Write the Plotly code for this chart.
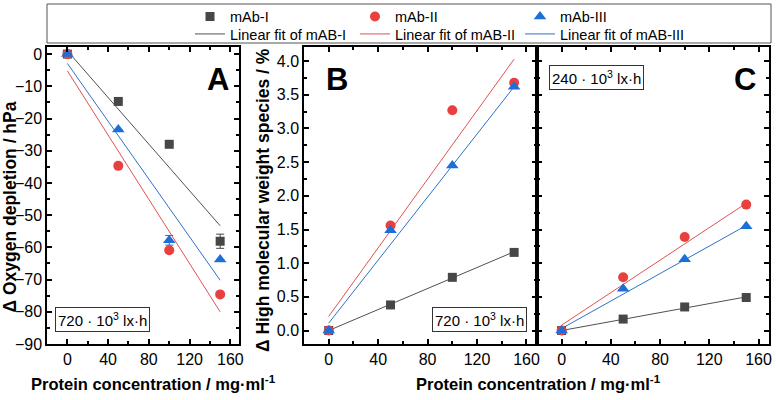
import plotly.graph_objects as go

# ---------------- data ----------------
conc = [0, 50, 100, 150]
fit_x = [0, 150]

# Panel A: oxygen depletion (hPa), 720e3 lx*h
A_mab1 = [0.0, -14.7, -28.0, -58.1]
A_mab2 = [0.0, -34.7, -60.9, -74.6]
A_mab3 = [0.0, -23.4, -57.8, -63.8]
A_err1 = [0, 0, 0, 2.2]
A_err2 = [0, 0, 0.8, 0]
A_err3 = [0, 0, 1.5, 0]
A_fit1 = [1.0, -53.3]
A_fit2 = [-5.2, -80.0]
A_fit3 = [-2.9, -70.2]

# Panel B: HMW species (%), 720e3 lx*h
B_mab1 = [0.0, 0.38, 0.79, 1.16]
B_mab2 = [0.0, 1.56, 3.27, 3.68]
B_mab3 = [0.0, 1.49, 2.45, 3.62]
B_fit1 = [0.0, 1.17]
B_fit2 = [0.21, 4.03]
B_fit3 = [0.11, 3.62]

# Panel C: HMW species (%), 240e3 lx*h
C_mab1 = [0.0, 0.17, 0.35, 0.49]
C_mab2 = [0.0, 0.79, 1.39, 1.87]
C_mab3 = [0.0, 0.62, 1.06, 1.55]
C_fit1 = [0.0, 0.50]
C_fit2 = [0.08, 1.89]
C_fit3 = [0.03, 1.56]

names = ["mAb-I", "mAb-II", "mAb-III"]
fit_names = ["Linear fit of mAB-I", "Linear fit of mAB-II", "Linear fit of mAB-III"]
x_ticks = [0, 40, 80, 120, 160]

# ---------------- style ----------------
W, H = 776, 400
FONT = "Liberation Sans, Arial, sans-serif"
mcol = ["#474747", "#E8403F", "#1D6FD8"]
lcol = ["#505050", "#E05252", "#2E72C6"]
msym = ["square", "circle", "triangle-up"]
msize = [9, 10, 11]

def px_x(p):
    return p / W

def px_y(p):
    return 1 - p / H

fig = go.Figure()

panels = [
    ("x", "y", [A_mab1, A_mab2, A_mab3], [A_fit1, A_fit2, A_fit3], [A_err1, A_err2, A_err3]),
    ("x2", "y2", [B_mab1, B_mab2, B_mab3], [B_fit1, B_fit2, B_fit3], None),
    ("x3", "y3", [C_mab1, C_mab2, C_mab3], [C_fit1, C_fit2, C_fit3], None),
]

for pi, (xa, ya, data, fits, errs) in enumerate(panels):
    for i in range(3):
        fig.add_trace(go.Scatter(
            x=fit_x, y=fits[i], mode="lines", xaxis=xa, yaxis=ya,
            line=dict(color=lcol[i], width=1),
            name=fit_names[i], legend="legend2", showlegend=(pi == 0),
            hoverinfo="skip"))
    for i in range(3):
        err = None
        if errs is not None:
            err = dict(type="data", array=errs[i], visible=True,
                       color=mcol[i], thickness=1, width=4)
        fig.add_trace(go.Scatter(
            x=conc, y=data[i], mode="markers", xaxis=xa, yaxis=ya,
            marker=dict(symbol=msym[i], size=msize[i], color=mcol[i],
                        line=dict(width=0)),
            error_y=err,
            name=names[i], legend="legend", showlegend=(pi == 0)))

# ---------------- axes ----------------
xdom = {"A": [px_x(47), px_x(239)], "B": [px_x(304), px_x(537)], "C": [px_x(537), px_x(769)]}
ydom = [px_y(344), px_y(47)]

def xaxis(dom, anchor):
    return dict(domain=dom, anchor=anchor, range=[-20, 168.5],
                tickmode="array", tickvals=x_ticks,
                ticktext=[str(v) for v in x_ticks],
                ticks="inside", ticklen=5,
                tickwidth=1.5, tickcolor="black",
                minor=dict(tickmode="linear", dtick=20, tick0=0, ticks="inside", ticklen=3,
                           tickwidth=1.5, tickcolor="black"),
                showline=True, linecolor="black", linewidth=1.5, mirror="ticks",
                showgrid=False, zeroline=False, automargin=False,
                tickfont=dict(family=FONT, size=16, color="black"))

def yaxis(dom, anchor, rng, dtick, mdtick, showlabels=True, fmt=None):
    d = dict(domain=dom, anchor=anchor, range=rng, tickmode="linear", dtick=dtick, tick0=0,
             ticks="inside", ticklen=5, tickwidth=1.5, tickcolor="black",
             minor=dict(tickmode="linear", dtick=mdtick, tick0=0, ticks="inside", ticklen=3,
                        tickwidth=1.5, tickcolor="black"),
             showline=True, linecolor="black", linewidth=1.5, mirror="ticks",
             showgrid=False, zeroline=False, showticklabels=showlabels,
             automargin=False,
             tickfont=dict(family=FONT, size=16, color="black"))
    if fmt:
        d["tickformat"] = fmt
    return d

fig.update_layout(
    xaxis=xaxis(xdom["A"], "y"),
    xaxis2=xaxis(xdom["B"], "y2"),
    xaxis3=xaxis(xdom["C"], "y3"),
    yaxis=yaxis(ydom, "x", [-90, 2.2], 10, 5),
    yaxis2=yaxis(ydom, "x2", [-0.2, 4.21], 0.5, 0.25, fmt=".1f"),
    yaxis3=yaxis(ydom, "x3", [-0.2, 4.21], 0.5, 0.25, showlabels=False),
)

# ---------------- legends ----------------
leg_common = dict(orientation="h", xanchor="left", yanchor="top",
                  entrywidth=120, entrywidthmode="pixels",
                  bgcolor="rgba(0,0,0,0)", borderwidth=0,
                  font=dict(family=FONT, size=14.5, color="black"),
                  itemclick=False, itemdoubleclick=False)
fig.update_layout(
    legend=dict(x=px_x(190), y=px_y(0.5), **leg_common),
    legend2=dict(x=px_x(190), y=px_y(18), **leg_common),
)

# legend frame
fig.add_shape(type="rect", xref="paper", yref="paper",
              x0=px_x(47), x1=px_x(771), y0=px_y(43), y1=px_y(4),
              line=dict(color="#555555", width=1), layer="below")

# ---------------- annotations ----------------
ann = []
for letter, cx in [("A", 217.5), ("B", 336.5), ("C", 745)]:
    ann.append(dict(text="<b>%s</b>" % letter, x=px_x(cx), y=px_y(79),
                    xref="paper", yref="paper", showarrow=False,
                    xanchor="center", yanchor="middle",
                    font=dict(family=FONT, size=31, color="black")))
for txt, cx, cy in [("720 · 10<sup>3</sup> lx·h", 102.5, 319.5),
                    ("720 · 10<sup>3</sup> lx·h", 479, 319.5),
                    ("240 · 10<sup>3</sup> lx·h", 596.5, 77.5)]:
    ann.append(dict(text=txt, x=px_x(cx), y=px_y(cy), xref="paper", yref="paper",
                    showarrow=False, xanchor="center", yanchor="middle",
                    bordercolor="#333333", borderwidth=1, borderpad=2,
                    bgcolor="white",
                    font=dict(family=FONT, size=15, color="black")))
for cx in [153, 538]:
    ann.append(dict(text="<b>Protein concentration / mg·ml<sup>-1</sup></b>",
                    x=px_x(cx), y=px_y(383), xref="paper", yref="paper",
                    showarrow=False, xanchor="center", yanchor="middle",
                    font=dict(family=FONT, size=16.5, color="black")))
ann.append(dict(text="<b>Δ Oxygen depletion / hPa</b>", textangle=-90,
                x=px_x(9.5), y=px_y(207), xref="paper", yref="paper",
                showarrow=False, xanchor="center", yanchor="middle",
                font=dict(family=FONT, size=17.5, color="black")))
ann.append(dict(text="<b>Δ High molecular weight species / %</b>", textangle=-90,
                x=px_x(263), y=px_y(200), xref="paper", yref="paper",
                showarrow=False, xanchor="center", yanchor="middle",
                font=dict(family=FONT, size=17.5, color="black")))

fig.update_layout(
    annotations=ann,
    width=W, height=H,
    margin=dict(l=0, r=0, t=0, b=0, autoexpand=False),
    paper_bgcolor="white", plot_bgcolor="white",
    font=dict(family=FONT, color="black"),
)

fig.write_html("out.html",
               config={"displayModeBar": False},
               post_script="document.body.style.margin='0';document.body.style.padding='0';document.body.style.overflow='hidden';")
